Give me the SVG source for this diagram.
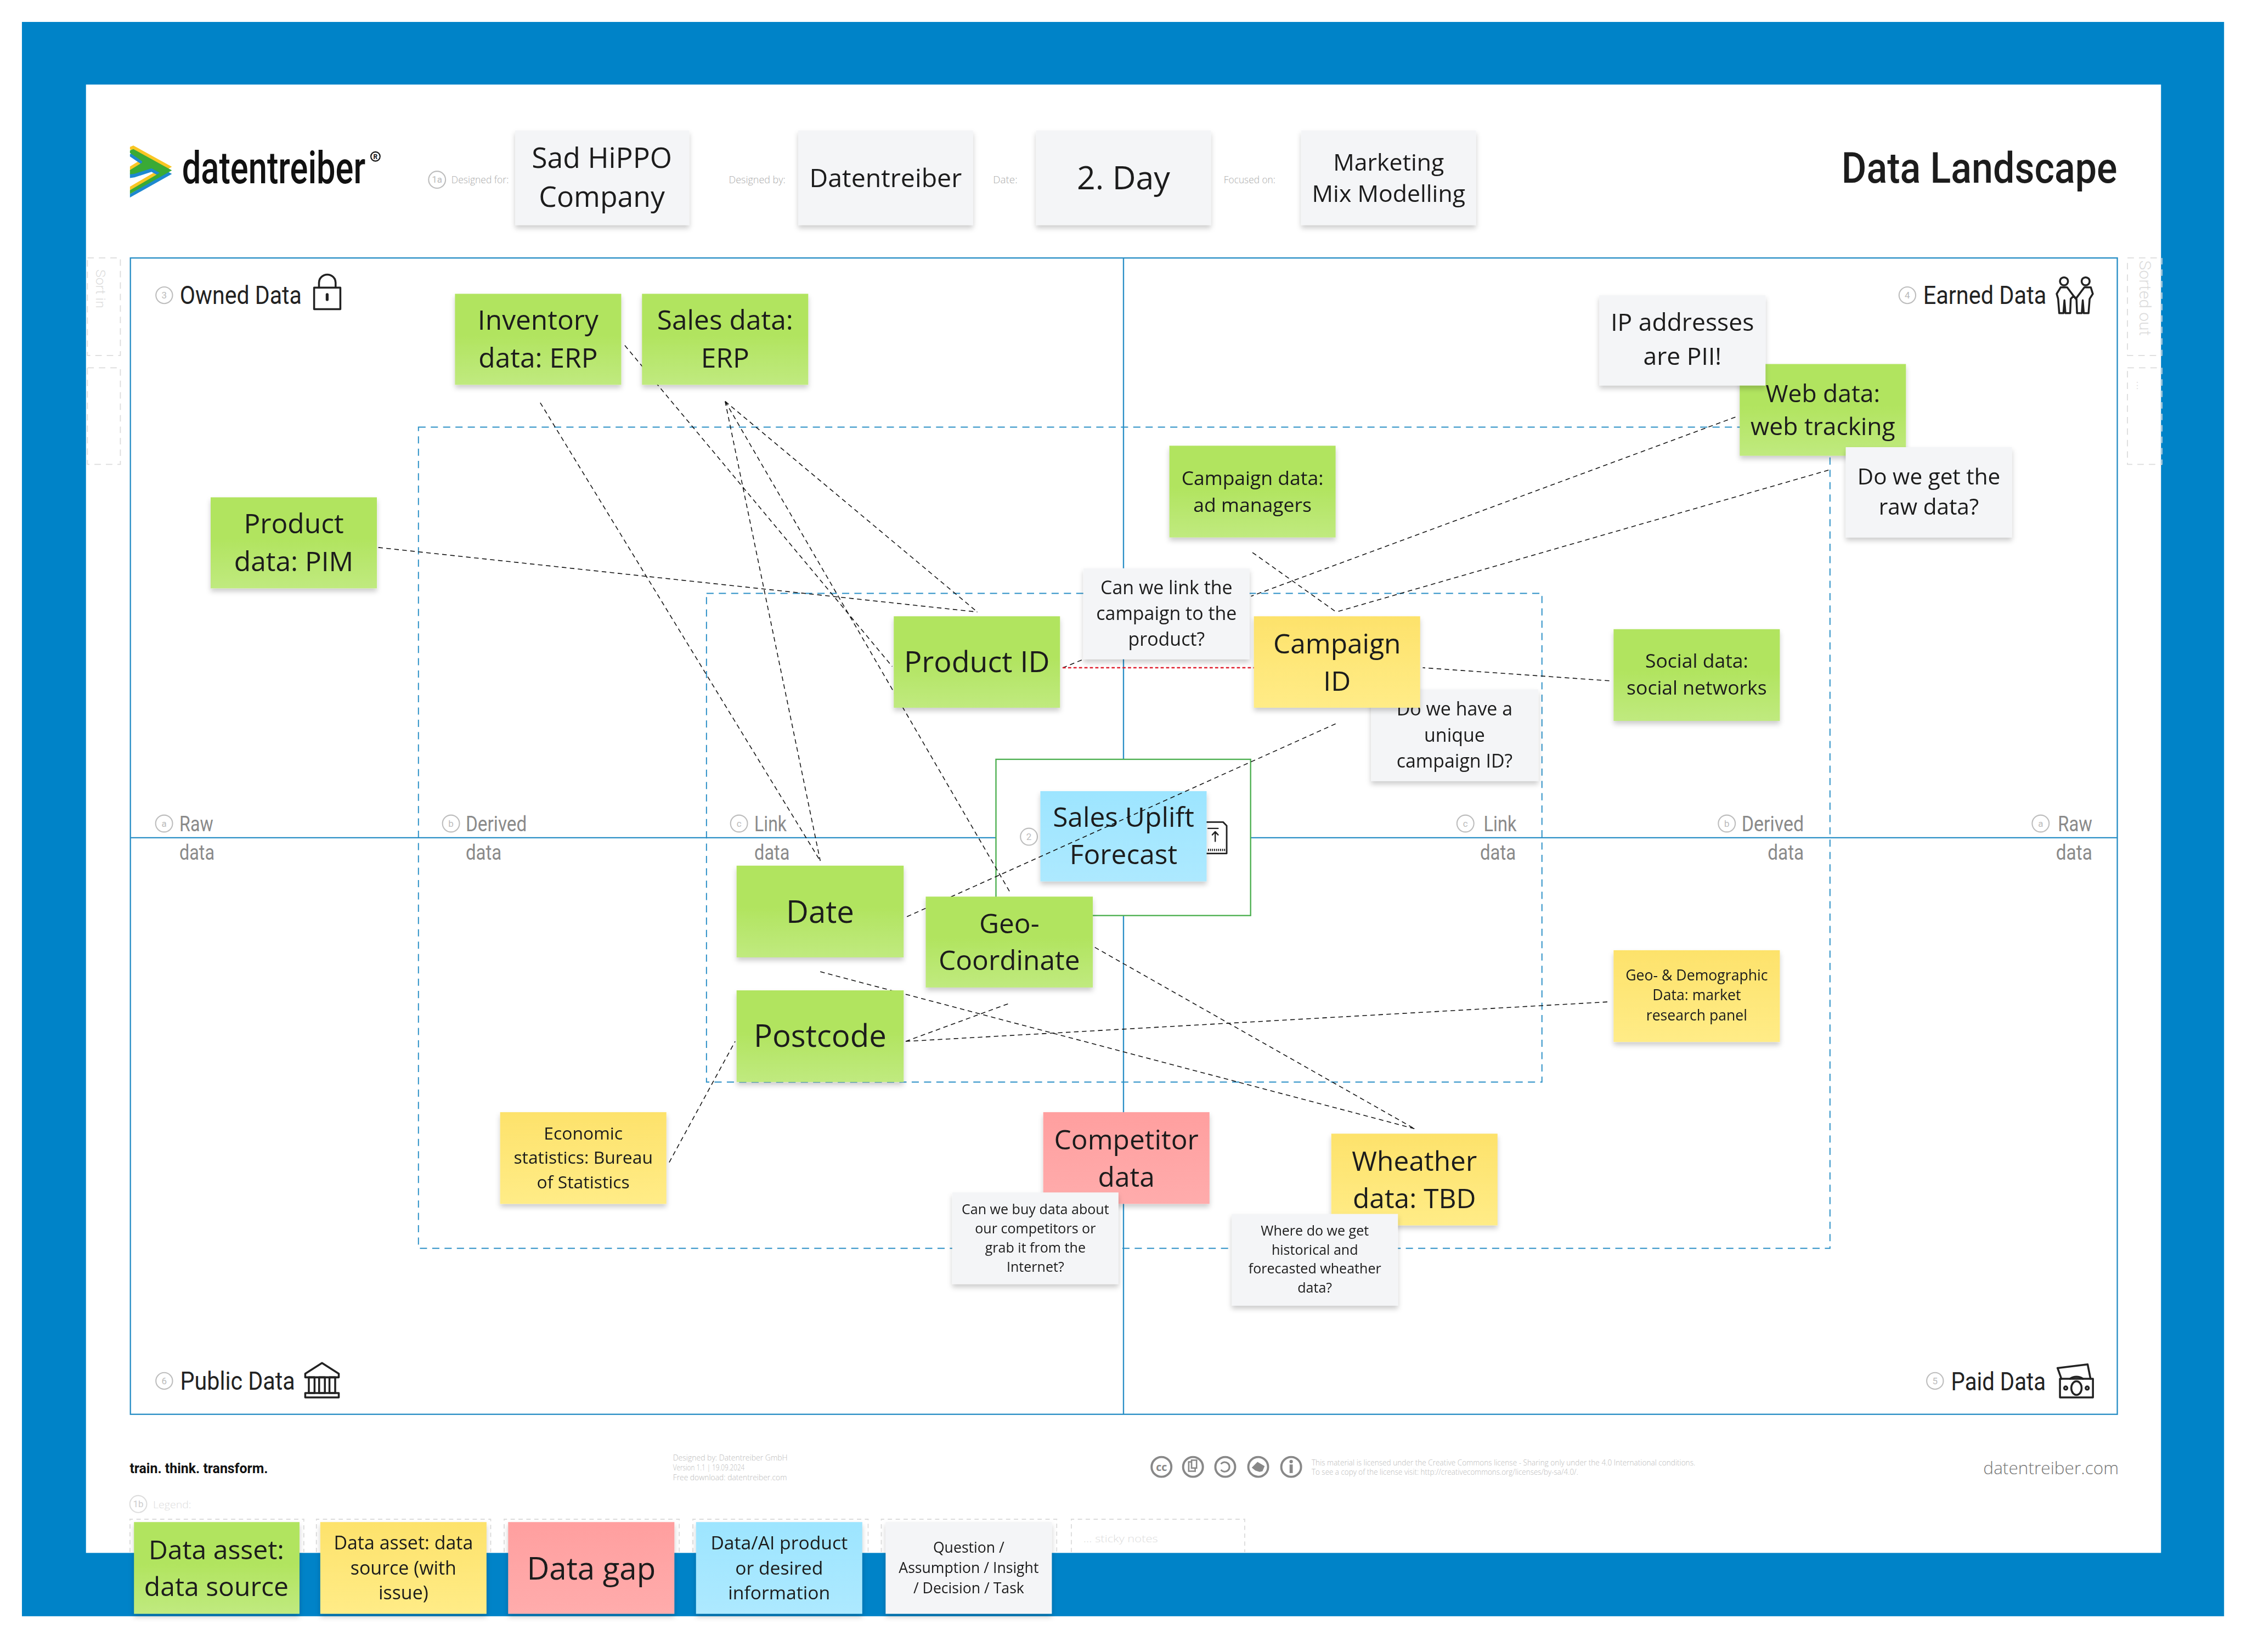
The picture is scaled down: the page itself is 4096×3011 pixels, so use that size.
<svg xmlns="http://www.w3.org/2000/svg" width="4096" height="3011" viewBox="0 0 4096 3011">
<style>
text{font-family:"Open Sans","Noto Sans","Liberation Sans",sans-serif;fill:#1a1a1a;text-anchor:middle}
.h{font-family:"Roboto","Liberation Sans",sans-serif;text-anchor:start}
.hd{font-size:17.5px;font-weight:400;fill:#222}
.ax{font-size:15px;fill:#8a8a8a}
.n{font-size:6.5px;fill:#bbb;font-family:"Roboto","Liberation Sans",sans-serif}
.cir{fill:none;stroke:#bdbdbd;stroke-width:.8}
.lab{font-size:7.2px;fill:#aaa;text-anchor:start;font-weight:300}
.fine{font-size:5.6px;fill:#bbb;text-anchor:start;font-weight:300}
.ghost{fill:none;stroke:#dcdcdc;stroke-width:.7;stroke-dasharray:4.5 3.5}
.side{font-family:"Roboto",sans-serif;fill:#dcdcdc;font-weight:300}
.frame{fill:none;stroke:#2a8fc6;stroke-width:.9}
.dash{fill:none;stroke:#2a8fc6;stroke-width:.75;stroke-dasharray:5 3.6}
.con{fill:none;stroke:#111;stroke-width:.6;stroke-dasharray:3.2 2.4}
.ico{fill:none;stroke:#222;stroke-width:1.35;stroke-linejoin:round;stroke-linecap:round}
.cc{fill:none;stroke:#888;stroke-width:1.5}
.s{filter:url(#sh)}
.g{fill:url(#gg)}.y{fill:url(#gy)}.r{fill:url(#gr)}.b{fill:url(#gb)}.w{fill:#f4f5f7}
.f20{font-size:19px}.f22{font-size:21.6px}.f18{font-size:17px}.f16{font-size:15.5px}.f15{font-size:13.6px}.f14{font-size:13.6px}.f13{font-size:13px}.f12{font-size:12.2px}.f11{font-size:10.2px}.f10{font-size:9.6px}
</style>
<defs>
<linearGradient id="gg" x1="0" y1="0" x2="0" y2="1"><stop offset=".45" stop-color="#b1e45f"/><stop offset="1" stop-color="#c0ea7f"/></linearGradient>
<linearGradient id="gy" x1="0" y1="0" x2="0" y2="1"><stop offset="0" stop-color="#fde26b"/><stop offset="1" stop-color="#ffec87"/></linearGradient>
<linearGradient id="gr" x1="0" y1="0" x2="0" y2="1"><stop offset="0" stop-color="#ff9f9f"/><stop offset="1" stop-color="#ffacac"/></linearGradient>
<linearGradient id="gb" x1="0" y1="0" x2="0" y2="1"><stop offset="0" stop-color="#9de5ff"/><stop offset="1" stop-color="#ade9ff"/></linearGradient>
<filter id="sh" x="-10%" y="-10%" width="120%" height="130%"><feDropShadow dx="0" dy="2.2" stdDeviation="1.8" flood-color="#000" flood-opacity=".2"/></filter>
<polygon id="lg" points="90.68,105.03 93.07,104 119.97,118.86 90.68,135.34 90.68,132.78 111.43,120.57 105.71,117.41 93.92,121.25 90.68,121.68 90.68,118.69 99.05,113.57 99.2,112.5 90.68,106.73" stroke-linejoin="round"/>
</defs>
<rect width="4096" height="3011" fill="#fff"/>
<g transform="scale(2.61224)">
<g id="background">
<rect x="15.3" y="15.3" width="1536.7" height="1112.4" fill="#0083c8"/>
<rect x="60" y="59" width="1448" height="1024.5" fill="#fff"/>
</g>
<g id="logo">
<use href="#lg" fill="#f9c623" transform="translate(0,-2.5)"/>
<use href="#lg" fill="#1e88d0" transform="translate(0,2.5)"/>
<use href="#lg" fill="#3aaa35"/>
<text class="h" x="127" y="127.7" font-size="31" font-weight="500" textLength="128" lengthAdjust="spacingAndGlyphs" style="fill:#111">datentreiber</text>
<circle cx="262" cy="109.2" r="3.2" fill="none" stroke="#111" stroke-width=".8"/>
<text x="262" y="111" font-size="4.6" font-weight="700" style="font-family:Roboto,sans-serif;fill:#111">R</text>
</g>
<g id="title"><text class="h" x="1285" y="127.5" font-size="29.5" font-weight="500" textLength="192.5" lengthAdjust="spacingAndGlyphs" style="fill:#1c1c1c">Data Landscape</text></g>
<g id="header-labels">
<circle class="cir" cx="305" cy="125.4" r="5.9"/><text class="n" x="305" y="127.6">1a</text>
<text class="lab" x="315" y="127.8" textLength="40" lengthAdjust="spacingAndGlyphs">Designed for:</text>
<text class="lab" x="508.6" y="127.8" textLength="39.5" lengthAdjust="spacingAndGlyphs">Designed by:</text>
<text class="lab" x="693" y="127.8" textLength="17" lengthAdjust="spacingAndGlyphs">Date:</text>
<text class="lab" x="854" y="127.8" textLength="36" lengthAdjust="spacingAndGlyphs">Focused on:</text>
</g>
<g id="hdr-company" class="s"><rect class="w" x="359.5" y="91" width="121.5" height="66"/><text x="420" y="117" style="font-size:19.8px">Sad HiPPO</text><text x="420" y="144.5" style="font-size:19.8px">Company</text></g>
<g id="hdr-designer" class="s"><rect class="w" x="557" y="91" width="122" height="66"/><text x="618" y="130.5" style="font-size:17.8px">Datentreiber</text></g>
<g id="hdr-date" class="s"><rect class="w" x="723" y="91" width="122" height="66"/><text x="784" y="132" style="font-size:22.6px">2. Day</text></g>
<g id="hdr-focus" class="s"><rect class="w" x="908" y="91" width="122" height="66"/><text x="969" y="119" style="font-size:16.4px">Marketing</text><text x="969" y="141" style="font-size:16.4px">Mix Modelling</text></g>

<g id="side-frames">
<rect class="ghost" x="61" y="180" width="23" height="68"/><rect class="ghost" x="61" y="256.6" width="23" height="67.4"/>
<rect class="ghost" x="1484.6" y="180" width="24" height="68"/><rect class="ghost" x="1484.6" y="256.6" width="24" height="67.4"/>
<text class="side" transform="translate(67,201.5) rotate(90)" font-size="9.5">Sort in</text>
<text class="side" transform="translate(1493,208) rotate(90)" font-size="11.5">Sorted out</text>
<text class="side" transform="translate(1491,269) rotate(90)" font-size="9">...</text>
</g>
<g id="canvas">
<rect class="frame" x="91" y="180" width="1386.5" height="806.8"/>
<line class="frame" x1="784" y1="180" x2="784" y2="987"/>
<line class="frame" x1="91" y1="584.5" x2="1477.5" y2="584.5"/>
<rect class="dash" x="292" y="298" width="985" height="573"/>
<rect class="dash" x="493" y="414" width="583" height="341"/>
</g>
<g id="quadrant-labels">
<circle class="cir" cx="114.6" cy="206" r="5.8"/><text class="n" x="114.6" y="208.2">3</text>
<text class="h hd" x="125.5" y="212" textLength="85" lengthAdjust="spacingAndGlyphs">Owned Data</text>
<g class="ico"><rect x="219.2" y="200.7" width="18.3" height="15"/><path d="M222.6 200.7v-3.5a5.8 5.6 0 0 1 11.6 0v3.5"/><path d="M228.3 205.5v3.5" stroke-width="2"/></g>

<circle class="cir" cx="1331" cy="206" r="5.8"/><text class="n" x="1331" y="208.2">4</text>
<text class="h hd" x="1342" y="212" textLength="86" lengthAdjust="spacingAndGlyphs">Earned Data</text>
<g class="ico"><circle cx="1440.3" cy="196.3" r="2.8"/><circle cx="1455.4" cy="196.3" r="2.8"/>
<path d="M1438 200.5h4.5l6 8 6-8h4.5l1.4 4.5-2.2 3.5-.8 10h-3.3l-.7-9-.7 9h-3.3l-.4-10-1-1-1-1-1 1-1 1-.4 10h-3.3l-.7-9-.7 9H1437l-.8-10-1-3.5z"/></g>

<circle class="cir" cx="114.6" cy="963.5" r="5.8"/><text class="n" x="114.6" y="965.7">6</text>
<text class="h hd" x="125.8" y="969.7" textLength="80" lengthAdjust="spacingAndGlyphs">Public Data</text>
<g class="ico"><path d="M213 958.5l11.7-7.5 11.7 7.5v2.5h-23.4z"/><rect x="213" y="972" width="23.4" height="3" /><path d="M215.5 961h4v11h-4zM222.7 961h4v11h-4zM229.9 961h4v11h-4z"/></g>

<circle class="cir" cx="1350.3" cy="963.5" r="5.8"/><text class="n" x="1350.3" y="965.7">5</text>
<text class="h hd" x="1361.5" y="970" textLength="66" lengthAdjust="spacingAndGlyphs">Paid Data</text>
<g class="ico"><path d="M1438.5 962l-2.7-7.5 21-2.5 2 10"/><path d="M1444.5 962a7 6 0 0 1 9 0"/><rect x="1437.5" y="962" width="23" height="13"/><ellipse cx="1449" cy="968.5" rx="3.6" ry="4.8"/><circle cx="1441.5" cy="968.5" r="1.1"/><circle cx="1456.5" cy="968.5" r="1.1"/></g>

<circle class="cir" cx="114.5" cy="574.6" r="5.9"/><text class="n" x="114.5" y="576.8">a</text>
<text class="h ax" x="125.2" y="579.8" textLength="23.6" lengthAdjust="spacingAndGlyphs">Raw</text>
<text class="h ax" x="125.2" y="600" textLength="24.5" lengthAdjust="spacingAndGlyphs">data</text>
<circle class="cir" cx="314.7" cy="574.6" r="5.9"/><text class="n" x="314.7" y="576.8">b</text>
<text class="h ax" x="325" y="579.8" textLength="42.6" lengthAdjust="spacingAndGlyphs">Derived</text>
<text class="h ax" x="325" y="600" textLength="25" lengthAdjust="spacingAndGlyphs">data</text>
<circle class="cir" cx="515.7" cy="574.6" r="5.9"/><text class="n" x="515.7" y="576.8">c</text>
<text class="h ax" x="526.4" y="579.8" textLength="22.6" lengthAdjust="spacingAndGlyphs">Link</text>
<text class="h ax" x="526.4" y="600" textLength="24.6" lengthAdjust="spacingAndGlyphs">data</text>
<circle class="cir" cx="1022.6" cy="574.6" r="5.9"/><text class="n" x="1022.6" y="576.8">c</text>
<text class="h ax" x="1035.3" y="579.8" textLength="23" lengthAdjust="spacingAndGlyphs">Link</text>
<text class="h ax" x="1032.8" y="600" textLength="25" lengthAdjust="spacingAndGlyphs">data</text>
<circle class="cir" cx="1205" cy="574.6" r="5.9"/><text class="n" x="1205" y="576.8">b</text>
<text class="h ax" x="1215.3" y="579.8" textLength="43.5" lengthAdjust="spacingAndGlyphs">Derived</text>
<text class="h ax" x="1233.5" y="600" textLength="25.3" lengthAdjust="spacingAndGlyphs">data</text>
<circle class="cir" cx="1424" cy="574.6" r="5.9"/><text class="n" x="1424" y="576.8">a</text>
<text class="h ax" x="1436" y="579.8" textLength="24" lengthAdjust="spacingAndGlyphs">Raw</text>
<text class="h ax" x="1434.7" y="600" textLength="25.3" lengthAdjust="spacingAndGlyphs">data</text>
</g>
<g id="product-box">
<rect x="695" y="529.8" width="177.7" height="109" fill="#fff" stroke="#4caf50" stroke-width=".9"/>
<circle class="cir" cx="718" cy="583.8" r="5.9"/><text class="n" x="718" y="586">2</text>
<g class="ico"><path d="M840 573.6h13.5l2.5 2.5v19.4h-16z" stroke-width="1.1"/><path d="M848 587v-6.5M846 582.5l2-2.2 2 2.2M843 578h7" stroke-width=".9"/><path d="M843 593h12" stroke-width="1.6" stroke-dasharray=".7 .7" stroke-linecap="butt"/></g>
</g>
<g id="node-sales-uplift" class="s"><rect class="b" x="726" y="552" width="116" height="63"/><text class="f20" x="784" y="577">Sales Uplift</text><text class="f20" x="784" y="603">Forecast</text></g>
<g id="connectors">
<path class="con" d="M377 281L572.4 600.7M506 280L572.4 600.7M506 280L682 427M506 280L704.5 622M436 241L622.6 465M264 382L682 427"/>
<path class="con" d="M874 385.5L932.4 427M1211 291L873 416M1276 328L932.4 427M1123 475L992.8 465.9M741.5 466L756 460"/>
<path class="con" d="M932 505L632 640M632 726.6L704.5 700M632 726.6L1123 699M572.4 678L987 787.5M764 661L987 787.5M467 811L513 726.6"/>
<path d="M741.5 465.9H875" fill="none" stroke="#e0202f" stroke-width="1" stroke-dasharray="2.2 1.6"/>
</g>
<g id="node-inventory" class="s"><rect class="g" x="317.5" y="205" width="116" height="63.5"/><text class="f20" x="375.5" y="230">Inventory</text><text class="f20" x="375.5" y="256.5">data: ERP</text></g>
<g id="node-sales" class="s"><rect class="g" x="448" y="205" width="116" height="63.5"/><text class="f20" x="506" y="230">Sales data:</text><text class="f20" x="506" y="256.5">ERP</text></g>
<g id="node-product-data" class="s"><rect class="g" x="147" y="347" width="116" height="63.5"/><text class="f20" x="205" y="372">Product</text><text class="f20" x="205" y="398.5">data: PIM</text></g>
<g id="node-product-id" class="s"><rect class="g" x="623.7" y="430" width="116" height="63.8"/><text x="681.7" y="469" style="font-size:20.6px">Product ID</text></g>
<g id="note-unique" class="s"><rect class="w" x="956.7" y="481" width="116.8" height="64"/><text class="f13" x="1015" y="499">Do we have a</text><text class="f13" x="1015" y="517.5">unique</text><text class="f13" x="1015" y="535.5">campaign ID?</text></g>
<g id="node-campaign-id" class="s"><rect class="y" x="875" y="430" width="116" height="63.8"/><text class="f20" x="933" y="456">Campaign</text><text class="f20" x="933" y="482">ID</text></g>
<g id="note-link" class="s"><rect class="w" x="756" y="396.5" width="116" height="63.5"/><text class="f13" x="814" y="414.5">Can we link the</text><text class="f13" x="814" y="432.5">campaign to the</text><text class="f13" x="814" y="450.5">product?</text></g>
<g id="node-date" class="s"><rect class="g" x="514" y="604" width="116.6" height="64"/><text class="f22" x="572.3" y="644">Date</text></g>
<g id="node-geo" class="s"><rect class="g" x="646" y="625.6" width="116.6" height="63.4"/><text class="f20" x="704.3" y="651">Geo-</text><text class="f20" x="704.3" y="677">Coordinate</text></g>
<g id="node-postcode" class="s"><rect class="g" x="514" y="691" width="116.6" height="64"/><text class="f22" x="572.3" y="730.5">Postcode</text></g>
<g id="node-economic" class="s"><rect class="y" x="349" y="776" width="116" height="64"/><text class="f12" x="407" y="795">Economic</text><text class="f12" x="407" y="812">statistics: Bureau</text><text class="f12" x="407" y="829">of Statistics</text></g>
<g id="node-competitor" class="s"><rect class="r" x="728" y="776" width="116" height="64"/><text class="f20" x="786" y="802">Competitor</text><text class="f20" x="786" y="828">data</text></g>
<g id="node-wheather" class="s"><rect class="y" x="929" y="791" width="116" height="64"/><text class="f20" x="987" y="817">Wheather</text><text class="f20" x="987" y="843">data: TBD</text></g>
<g id="note-competitor" class="s"><rect class="w" x="664.5" y="832" width="116" height="64"/><text class="f10" x="722.5" y="847">Can we buy data about</text><text class="f10" x="722.5" y="860.5">our competitors or</text><text class="f10" x="722.5" y="874">grab it from the</text><text class="f10" x="722.5" y="887.5">Internet?</text></g>
<g id="note-wheather" class="s"><rect class="w" x="859.5" y="847" width="116" height="64"/><text class="f10" x="917.5" y="862">Where do we get</text><text class="f10" x="917.5" y="875.5">historical and</text><text class="f10" x="917.5" y="888.5">forecasted wheather</text><text class="f10" x="917.5" y="902">data?</text></g>
<g id="node-campaign-data" class="s"><rect class="g" x="816" y="311" width="116" height="64"/><text class="f15" x="874" y="338.5">Campaign data:</text><text class="f15" x="874" y="357">ad managers</text></g>
<g id="node-web" class="s"><rect class="g" x="1214" y="254" width="116" height="64"/><text class="f18" x="1272" y="280.5">Web data:</text><text class="f18" x="1272" y="303.5">web tracking</text></g>
<g id="note-ip" class="s"><rect class="w" x="1116" y="206" width="116" height="63"/><text class="f18" x="1174" y="231">IP addresses</text><text class="f18" x="1174" y="254.5">are PII!</text></g>
<g id="note-raw" class="s"><rect class="w" x="1288" y="312" width="116" height="63"/><text class="f16" x="1346" y="338">Do we get the</text><text class="f16" x="1346" y="359">raw data?</text></g>
<g id="node-social" class="s"><rect class="g" x="1126" y="439" width="116" height="64"/><text class="f14" x="1184" y="466">Social data:</text><text class="f14" x="1184" y="484.5">social networks</text></g>
<g id="node-geo-demo" class="s"><rect class="y" x="1126" y="663" width="116" height="64"/><text class="f11" x="1184" y="684">Geo- &amp; Demographic</text><text class="f11" x="1184" y="698">Data: market</text><text class="f11" x="1184" y="712">research panel</text></g>
<g id="footer">
<text class="h" x="90.5" y="1028" font-size="9.8" font-weight="700" textLength="96.5" lengthAdjust="spacingAndGlyphs" style="fill:#111">train. think. transform.</text>
<text class="fine" x="469.6" y="1019" textLength="80" lengthAdjust="spacingAndGlyphs">Designed by: Datentreiber GmbH</text>
<text class="fine" x="469.6" y="1026" textLength="50" lengthAdjust="spacingAndGlyphs">Version 1.1 | 19.09.2024</text>
<text class="fine" x="469.6" y="1033" textLength="79.5" lengthAdjust="spacingAndGlyphs">Free download: datentreiber.com</text>
<circle class="cc" cx="810.5" cy="1023.5" r="6.9"/><text x="810.5" y="1026.3" font-size="7.5" font-weight="700" style="fill:#888">cc</text>
<circle class="cc" cx="832.5" cy="1023.5" r="6.9"/><rect x="829.5" y="1020" width="4.5" height="6.5" fill="none" stroke="#888" stroke-width="1"/><rect x="831.5" y="1018.8" width="3.5" height="5.5" fill="#fff" stroke="#888" stroke-width="1"/>
<circle class="cc" cx="855" cy="1023.5" r="6.9"/><path d="M852 1021.5a3.3 3.3 0 1 1 0 4" fill="none" stroke="#888" stroke-width="1.2"/>
<circle class="cc" cx="878" cy="1023.5" r="6.9"/><path d="M873.5 1024l4-4 5 3-1.5 3.5-2 .5-3-1z" fill="#888"/>
<circle class="cc" cx="901" cy="1023.5" r="6.9"/><circle cx="901" cy="1019.8" r="1.2" fill="#888"/><rect x="899.9" y="1021.8" width="2.2" height="6" fill="#888"/>
<text class="fine" x="915.3" y="1022.5" textLength="267.7" lengthAdjust="spacingAndGlyphs">This material is licensed under the Creative Commons license - Sharing only under the 4.0 International conditions.</text>
<text class="fine" x="915.3" y="1029" textLength="186" lengthAdjust="spacingAndGlyphs">To see a copy of the license visit: http://creativecommons.org/licenses/by-sa/4.0/.</text>
<text x="1384" y="1028.5" font-size="12" font-weight="300" style="fill:#777;text-anchor:start" textLength="94.5" lengthAdjust="spacingAndGlyphs">datentreiber.com</text>
</g>
<g id="legend-frames">
<circle class="cir" cx="96.5" cy="1049.4" r="5.9" style="stroke:#ddd"/><text class="n" x="96.5" y="1051.6" style="fill:#ccc">1b</text>
<text class="lab" x="106.8" y="1052.5" textLength="26.6" lengthAdjust="spacingAndGlyphs" style="fill:#ddd">Legend:</text>
<path class="ghost" style="stroke-dasharray:3 2.5" d="M90.7 1083V1060H212V1083M220.8 1083V1060H342.4V1083M351.8 1083V1060H474V1083M483.5 1083V1060H605.8V1083M615 1083V1060H737.4V1083M747.6 1083V1060H868.6V1083"/>
<text class="lab" x="756" y="1076" textLength="52" lengthAdjust="spacingAndGlyphs" style="fill:#ddd">... sticky notes</text>
</g>
<g id="legend-asset" class="s"><rect class="g" x="93.5" y="1062" width="115.5" height="64"/><text x="151" y="1088" style="font-size:18.4px">Data asset:</text><text x="151" y="1113.5" style="font-size:18.4px">data source</text></g>
<g id="legend-issue" class="s"><rect class="y" x="223.5" y="1062" width="116" height="64"/><text class="f13" x="281.5" y="1081">Data asset: data</text><text class="f13" x="281.5" y="1098.5">source (with</text><text class="f13" x="281.5" y="1116">issue)</text></g>
<g id="legend-gap" class="s"><rect class="r" x="354.6" y="1062" width="116" height="64"/><text class="f22" x="412.6" y="1102">Data gap</text></g>
<g id="legend-product" class="s"><rect class="b" x="485.7" y="1062" width="116" height="64"/><text x="543.7" y="1081" style="font-size:12.9px">Data/AI product</text><text x="543.7" y="1098.5" style="font-size:12.9px">or desired</text><text x="543.7" y="1116" style="font-size:12.9px">information</text></g>
<g id="legend-question" class="s"><rect class="w" x="618" y="1062" width="116" height="64"/><text class="f11" x="676" y="1083.5">Question /</text><text class="f11" x="676" y="1097.5">Assumption / Insight</text><text class="f11" x="676" y="1111.5">/ Decision / Task</text></g>
</g>
</svg>
